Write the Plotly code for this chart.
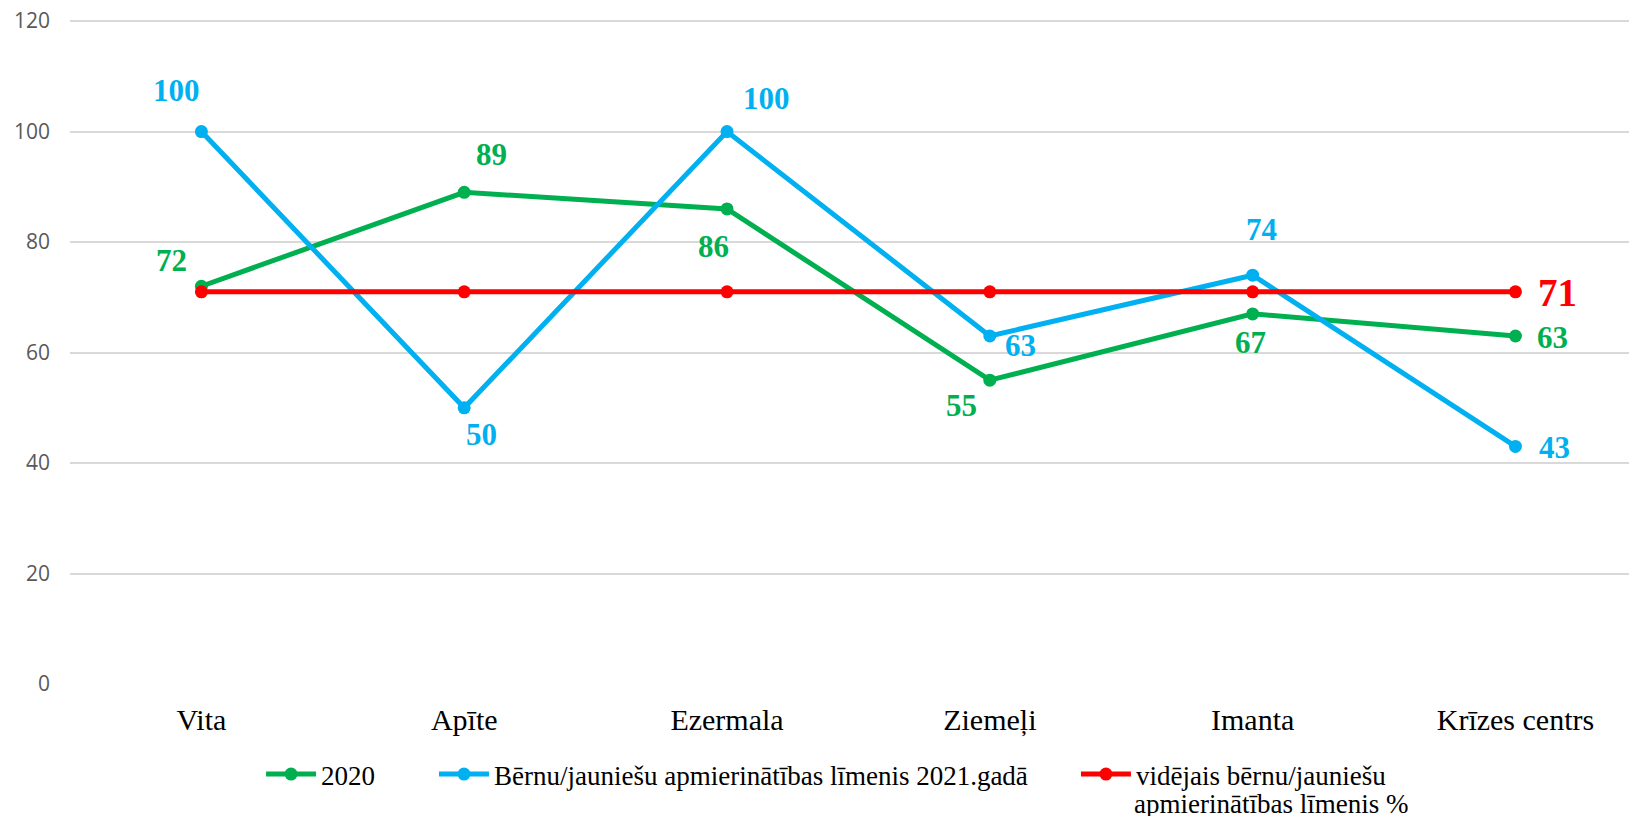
import plotly.graph_objects as go

categories = ["Vita", "Apīte", "Ezermala", "Ziemeļi", "Imanta", "Krīzes centrs"]
values_2020 = [72, 89, 86, 55, 67, 63]
values_2021 = [100, 50, 100, 63, 74, 43]
values_avg = [71, 71, 71, 71, 71, 71]
y_ticks = [0, 20, 40, 60, 80, 100, 120]

name_2020 = "2020"
name_2021 = "Bērnu/jauniešu apmierinātības līmenis 2021.gadā"
name_avg = "vidējais bērnu/jauniešu"
name_avg_line2 = "apmierinātības līmenis %"

GREEN = "#00B050"
BLUE = "#00B0F0"
RED = "#FF0000"

# label pixel offsets (dx, dy up)
off_2020 = [(-30, 26), (27, 38), (-14, -38), (-28, -25), (-2, -29), (37, -2)]
off_2021 = [(-25, 41), (17, -27), (39, 33), (31, -10), (9, 46), (39, -1)]

fig = go.Figure()
for name, vals, col, leg in [(name_2020, values_2020, GREEN, "legend"),
                             (name_2021, values_2021, BLUE, "legend2"),
                             (name_avg, values_avg, RED, "legend3")]:
    fig.add_trace(go.Scatter(
        x=categories, y=vals, name=name, mode="lines+markers",
        line=dict(color=col, width=5), marker=dict(color=col, size=13),
        legend=leg, cliponaxis=False))

annotations = []
for vals, offs, col in [(values_2020, off_2020, GREEN), (values_2021, off_2021, BLUE)]:
    for c, v, (dx, dy) in zip(categories, vals, offs):
        annotations.append(dict(x=c, y=v, text=str(v), showarrow=False,
                                xshift=dx, yshift=dy,
                                font=dict(family="Liberation Serif", size=31, color=col, weight="bold")))
annotations.append(dict(x=categories[-1], y=values_avg[-1], text=str(values_avg[-1]), showarrow=False,
                        xshift=42, yshift=-1,
                        font=dict(family="Liberation Serif", size=39, color=RED, weight="bold")))

legfont = dict(family="Liberation Serif", size=27, color="#000000")
annotations.append(dict(xref="paper", yref="paper", x=0.6743, y=-0.181, xanchor="left", yanchor="middle",
                        text=name_avg_line2, showarrow=False, font=legfont))

def leg(x):
    return dict(x=x, y=-0.0995, xanchor="left", yanchor="top", orientation="h",
                font=legfont, bgcolor="rgba(0,0,0,0)", itemwidth=50, tracegroupgap=0)

fig.update_layout(
    width=1637, height=816,
    margin=dict(l=62, r=0, t=12, b=140),
    plot_bgcolor="white", paper_bgcolor="white",
    showlegend=True,
    legend=leg(0.1213), legend2=leg(0.2311), legend3=leg(0.6387),
    annotations=annotations,
    xaxis=dict(range=[-0.5, 5.493], showgrid=False, zeroline=False, showline=False, automargin=False,
               tickfont=dict(family="Liberation Serif", size=30, color="#000000"),
               ticks="", ticklabelstandoff=15),
    yaxis=dict(range=[0, 120.2], tickvals=y_ticks, showgrid=True, gridcolor="#D9D9D9", gridwidth=1.5,
               zeroline=False, showline=False, automargin=False, ticklabeloverflow="allow",
               tickfont=dict(family="Open Sans", size=21, color="#595959"),
               ticks="", ticklabelstandoff=19),
)

fig.write_html("out.html")
